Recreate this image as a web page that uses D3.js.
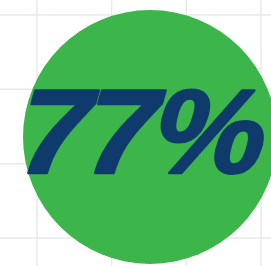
<!DOCTYPE html>
<html><head><meta charset="utf-8">
<script src="https://cdn.jsdelivr.net/npm/d3@7"></script>
<style>html,body{margin:0;padding:0;background:#fff;overflow:hidden}</style>
</head><body>
<svg id="c" width="271" height="266"></svg>
<script>
const categories = ["Share"];
const values = [77];
const labels = ["77%"];
const gridTicks = [0, 1, 2, 3];

const W = 271, H = 266;
const svg = d3.select("#c");

const gx = d3.scaleLinear().domain([0, 3]).range([37, 261]);
const gy = d3.scaleLinear().domain([0, 3]).range([15, 238]);

svg.append("g").selectAll("line.v").data(gridTicks).join("line")
  .attr("x1", d => gx(d)).attr("x2", d => gx(d)).attr("y1", 0).attr("y2", H)
  .attr("stroke", "#e6eaec").attr("stroke-width", 1.5);
svg.append("g").selectAll("line.h").data(gridTicks).join("line")
  .attr("y1", d => gy(d)).attr("y2", d => gy(d)).attr("x1", 0).attr("x2", W)
  .attr("stroke", "#e6eaec").attr("stroke-width", 1.5);

const cx = d3.scaleBand().domain(categories).range([23, 277]);
const r = d3.scaleSqrt().domain([0, 77]).range([0, 127]);

const g = svg.append("g");
g.selectAll("circle").data(values).join("circle")
  .attr("cx", (d, i) => cx(categories[i]) + cx.bandwidth() / 2)
  .attr("cy", 137)
  .attr("r", d => r(d))
  .attr("fill", "#3cb54a");

g.selectAll("text").data(labels).join("text")
  .attr("transform", (d, i) => `translate(${cx(categories[i]) + cx.bandwidth() / 2 - 11},173) scale(1.05,1) skewX(-4)`)
  .attr("text-anchor", "middle")
  .attr("font-family", "'Liberation Sans', Arial, sans-serif")
  .attr("font-weight", "bold")
  .attr("font-style", "italic")
  .attr("font-size", 120)
  .attr("letter-spacing", -3)
  .attr("fill", "#0e3b6b")
  .attr("stroke", "#0e3b6b")
  .attr("stroke-width", 2.5)
  .attr("stroke-linejoin", "round")
  .text(d => d);
</script>
</body></html>
